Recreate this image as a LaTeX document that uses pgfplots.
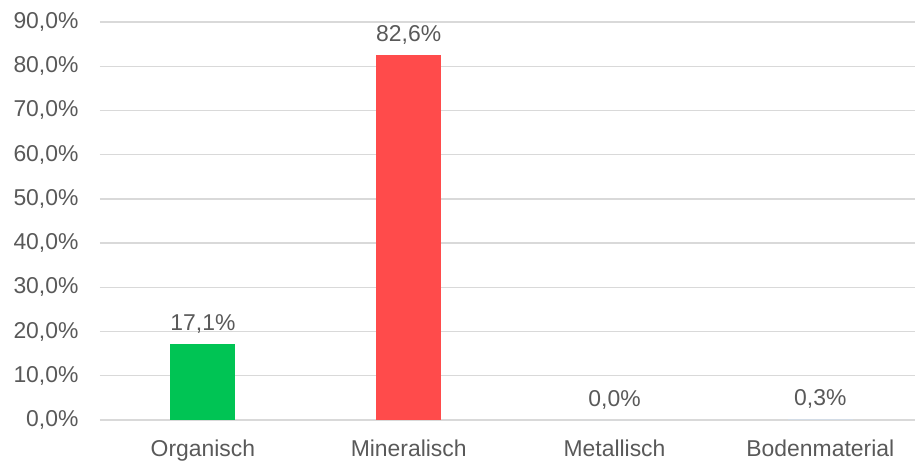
\documentclass[border=0pt]{standalone}
\usepackage{pgfplots}
\pgfplotsset{compat=1.18}
\usepackage{fontspec}
\setmainfont{Liberation Sans}
\definecolor{txt}{HTML}{595959}
\definecolor{gridc}{HTML}{D9D9D9}
\definecolor{cgreen}{HTML}{00C454}
\definecolor{cred}{HTML}{FF4B4B}
\definecolor{cgray}{HTML}{D3DCE6}
\begin{document}
\begin{tikzpicture}
\useasboundingbox (-100bp,-44bp) rectangle (815bp,420bp);
\begin{axis}[
  at={(0,0)}, anchor=south west,
  scale only axis, width=815bp, height=398bp,
  xmin=-0.5, xmax=3.46, ymin=0, ymax=90,
  axis line style={draw=none},
  ytick={0,10,...,90},
  yticklabels={{0,0\%},{10,0\%},{20,0\%},{30,0\%},{40,0\%},{50,0\%},{60,0\%},{70,0\%},{80,0\%},{90,0\%}},
  xtick={0,1,2,3},
  xticklabels={Organisch,Mineralisch,Metallisch,Bodenmaterial},
  major tick length=0pt,
  xmajorgrids=false, ymajorgrids=true,
  major grid style={draw=gridc, line width=1.3bp},
  tick label style={font=\fontsize{23}{26}\selectfont, text=txt},
  yticklabel style={xshift=-18bp},
  xticklabel style={yshift=-16bp},
  ybar, bar width=65bp, bar shift=0pt,
  nodes near coords,
  point meta=explicit symbolic,
  every node near coord/.style={font=\fontsize{23}{26}\selectfont, text=txt, yshift=7bp},
  clip=false,
]
\addplot[fill=cgreen, draw=none] table[meta=l] {
x y l
0 17.1 17,1\%
};
\addplot[fill=cred, draw=none] table[meta=l] {
x y l
1 82.6 82,6\%
};
\addplot[fill=cgray, draw=none] table[meta=l] {
x y l
2 0.0 0,0\%
};
\addplot[fill=cgray, draw=none] table[meta=l] {
x y l
3 0.3 0,3\%
};
\end{axis}
\end{tikzpicture}
\end{document}
